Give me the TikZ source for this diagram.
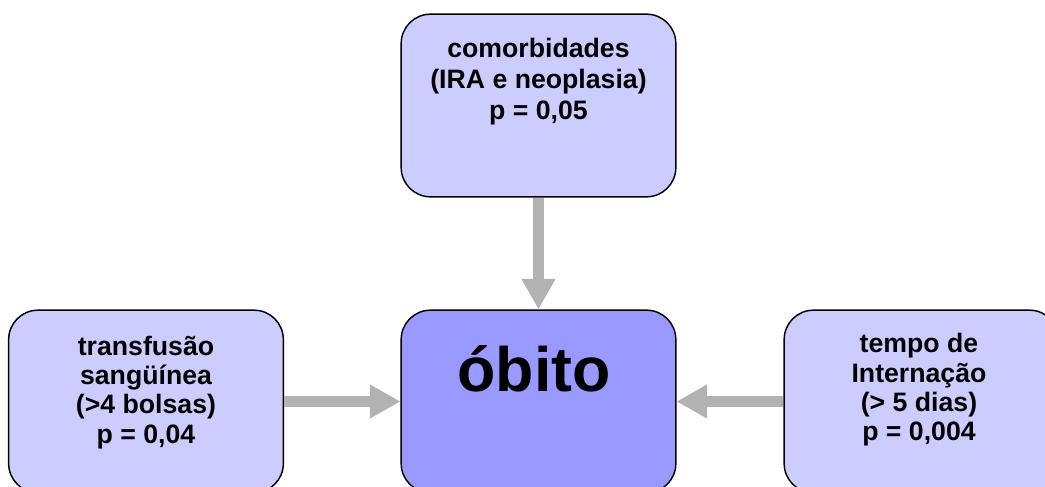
\documentclass[tikz,border=0pt]{standalone}
\usepackage{fontspec}
\setmainfont{Liberation Sans}
\usetikzlibrary{arrows.meta}

\definecolor{boxlight}{RGB}{204,204,255}
\definecolor{boxdark}{RGB}{153,153,255}
\definecolor{arrowgray}{RGB}{178,178,178}

\tikzset{every picture/.style={line width=0.75pt}}
\tikzset{
  factorbox/.style={draw=black, line width=1.1pt, fill=boxlight, rounded corners=22pt,
    minimum width=206pt, minimum height=137pt, inner sep=0pt},
  outcomebox/.style={factorbox, fill=boxdark},
  boxtext/.style={anchor=north, inner sep=0pt, align=center},
  fatarrow/.style={draw=arrowgray, line width=7.9pt, -{Triangle[width=24pt,length=23pt]}},
}

\begin{document}
\begin{tikzpicture}[x=0.75pt,y=0.75pt,yscale=-1,xscale=1]
\path[use as bounding box] (0,0) rectangle (1045,486);
\clip (0,0) rectangle (1045,486);

%Shape: Rounded Rectangles
\node[factorbox] (comorb) at (538.5,105.5) {};
\node[factorbox] (transf) at (146,401.5) {};
\node[outcomebox] (obito) at (538.5,401.5) {};
\node[factorbox] (tempo) at (921.5,401.5) {};

%Straight Lines
\draw[fatarrow] (comorb.south) -- (obito.north);
\draw[fatarrow] (transf.east) -- (obito.west);
\draw[fatarrow] (tempo.west) -- (obito.east);

% Text Node
\node[boxtext, font=\bfseries\fontsize{20}{23}\selectfont] (comorbtxt) at (538.5,38)
  {comorbidades\\(IRA e neoplasia)\\p = 0,05};
% Text Node
\node[boxtext, font=\bfseries\fontsize{20}{22}\selectfont] (transftxt) at (146,335.5)
  {transfusão\\sangüínea\\(>4 bolsas)\\p = 0,04};
% Text Node
\node[boxtext, font=\bfseries\fontsize{20}{22}\selectfont] (tempotxt) at (919,333)
  {tempo de\\Internação\\(> 5 dias)\\p = 0,004};
% Text Node
\node[anchor=base, inner sep=0pt, font=\bfseries\fontsize{47}{47}\selectfont] (obitotxt) at (534,391)
  {óbito};

\end{tikzpicture}
\end{document}
